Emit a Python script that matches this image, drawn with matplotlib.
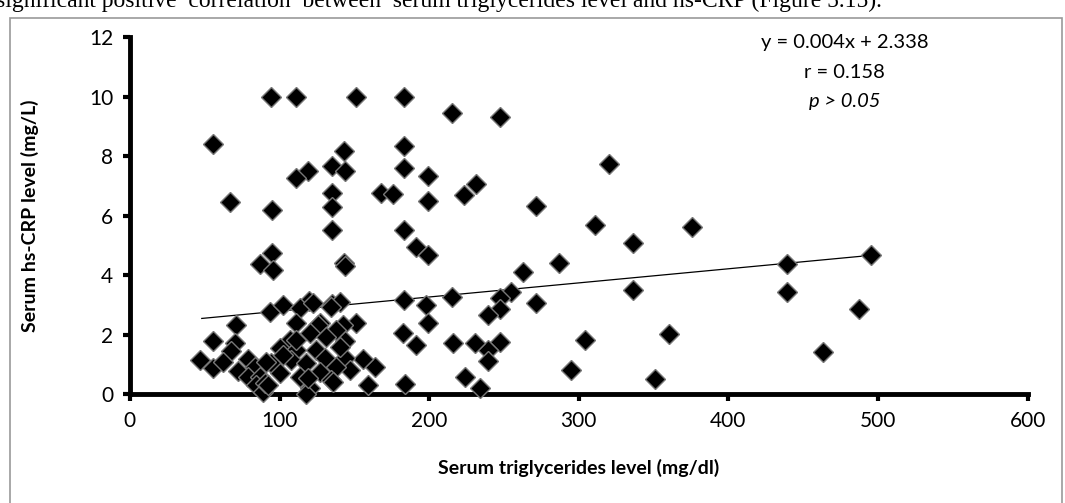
import numpy as np
import matplotlib
matplotlib.use('Agg')
import matplotlib.pyplot as plt
from matplotlib.patches import Rectangle

# serum triglycerides (mg/dl) and hs-CRP (mg/L)
tg = [94, 111, 151, 183, 215, 247,
      55.5, 143, 135, 143.5, 119, 111,
      183, 183, 199, 167.5, 176, 135.3, 135.3, 67, 95, 199, 223.5, 231.5,
      320, 271.5, 311, 336, 375.5,
      135.3, 183, 191.4, 199, 95, 86.7, 95.6, 143, 143.5,
      263, 287, 439, 495, 439, 487.5, 463.5,
      255, 247.5, 247.5, 239.5, 271.5, 336,
      247.5, 239.5, 239.5, 304, 360, 295, 351, 233.7, 223.6,
      215.4, 215.9, 230.3,
      183, 198, 199, 182.4, 191.4, 159, 183.6, 163.5, 155.7, 151.3, 142.4,
      143.5, 143.5, 146.8,
      119.4, 135.3, 140.2, 126.8,
      46.6, 55.5, 55.5, 71.1, 70, 67.8, 62.2, 72.2, 78.9, 83.4, 78.9, 86.7,
      84.5, 88.9, 90, 93.4, 94.5,
      102.3, 113.4, 122.3, 134.6, 111.2, 125.7, 137.9, 120.1, 106.7, 131.3,
      100.1, 111.2, 124.6, 140.2, 91.2, 107.9, 117.9, 130.1, 137.9, 100.1,
      113.4, 126.8, 92.3, 120.1, 134.6, 117.9, 135.7, 119, 102.3, 111.2]
crp = [10.0, 10.0, 10.0, 10.0, 9.43, 9.32,
       8.4, 8.18, 7.65, 7.5, 7.5, 7.27,
       8.32, 7.6, 7.33, 6.77, 6.72, 6.75, 6.3, 6.47, 6.2, 6.5, 6.69, 7.06,
       7.73, 6.33, 5.68, 5.06, 5.6,
       5.51, 5.51, 4.95, 4.68, 4.73, 4.37, 4.17, 4.42, 4.3,
       4.1, 4.39, 4.36, 4.66, 3.42, 2.86, 1.4,
       3.44, 3.22, 2.85, 2.66, 3.07, 3.5,
       1.74, 1.48, 1.1, 1.82, 2.02, 0.81, 0.49, 0.2, 0.58,
       3.25, 1.72, 1.7,
       3.17, 3.0, 2.38, 2.04, 1.66, 0.3, 0.32, 0.92, 1.18, 2.38, 2.32,
       1.78, 1.2, 0.81,
       3.14, 3.02, 3.1, 2.38,
       1.14, 1.78, 0.86, 2.32, 1.73, 1.45, 1.09, 0.78, 1.17, 0.92, 0.58, 0.58,
       0.3, 0.08, 0.37, 2.77, 1.03,
       2.99, 2.88, 3.05, 2.93, 2.38, 2.32, 2.15, 2.04, 1.82, 1.93,
       1.54, 1.48, 1.48, 1.59, 1.09, 1.14, 1.03, 1.2, 0.92, 0.7,
       0.58, 0.75, 0.3, 0.19, 0.47, 0.0, 0.41, 0.53, 1.31, 1.82]

# trend line ends as drawn in the figure
trend_x = [48, 495]
trend_y = [2.54, 4.66]

fig = plt.figure(figsize=(10.65, 5.03), dpi=100)
ax = fig.add_axes([0.122, 0.2167, 0.843, 0.7097])

ax.plot(trend_x, trend_y, color='black', lw=0.9, zorder=2)
ax.plot(tg, crp, 'D', ms=10, mfc='black', mec='#777777', mew=1.0,
        ls='none', zorder=3, clip_on=False)

ax.set_xlim(0, 600)
ax.set_ylim(0, 12)
ax.set_xticks(np.arange(0, 601, 100))
ax.set_yticks(np.arange(0, 13, 2))
for s in ['top', 'right']:
    ax.spines[s].set_visible(False)
for s in ['left', 'bottom']:
    ax.spines[s].set_linewidth(3.5)
ax.tick_params(direction='out', length=5, width=3, labelsize=15, pad=7)
for lab in ax.get_xticklabels() + ax.get_yticklabels():
    lab.set_family('Lato')

ax.set_xlabel('Serum triglycerides level (mg/dl)', fontsize=14,
              fontweight='bold', family='Lato', labelpad=20)
ax.set_ylabel('Serum hs-CRP level (mg/L)', fontsize=14,
              fontweight='bold', family='Lato', labelpad=36)

ax.text(0.796, 0.986, 'y = 0.004x + 2.338', transform=ax.transAxes,
        ha='center', va='center', fontsize=14.5, family='Lato')
ax.text(0.796, 0.902, 'r = 0.158', transform=ax.transAxes,
        ha='center', va='center', fontsize=14.5, family='Lato')
ax.text(0.796, 0.818, 'p > 0.05', transform=ax.transAxes,
        ha='center', va='center', fontsize=14.5, family='Lato', style='italic')

# frame of the embedded chart and the cut-off caption line above it
fig.patches.append(Rectangle((0.009, -0.01), 0.988, 0.975,
                             transform=fig.transFigure, fill=False,
                             edgecolor='#999999', lw=1.2))
fig.text(-0.004, 0.997, 'significant positive  correlation  between  serum triglycerides '
         'level and hs-CRP (Figure 5.15).', ha='left', va='center',
         fontsize=17, family='Liberation Serif')

fig.savefig('out.png', dpi=100)
